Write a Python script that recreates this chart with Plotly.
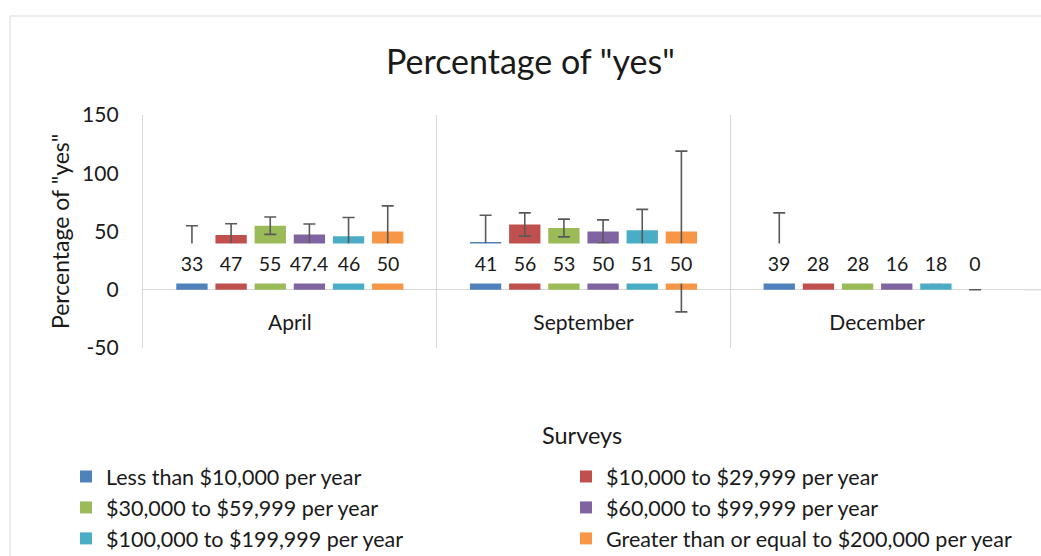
import plotly.graph_objects as go

categories = ["April", "September", "December"]
series_names = [
    "Less than $10,000 per year",
    "$10,000 to $29,999 per year",
    "$30,000 to $59,999 per year",
    "$60,000 to $99,999 per year",
    "$100,000 to $199,999 per year",
    "Greater than or equal to $200,000 per year",
]
colors = ["#4F81BD", "#C0504D", "#9BBB59", "#8064A2", "#4BACC6", "#F79646"]

# values per series across [April, September, December]
less_10k = [33, 41, 39]
k10_29 = [47, 56, 28]
k30_59 = [55, 53, 28]
k60_99 = [47.4, 50, 16]
k100_199 = [46, 51, 18]
k200_plus = [50, 50, 0]
values = [less_10k, k10_29, k30_59, k60_99, k100_199, k200_plus]

# error bar half-widths
err_less_10k = [22, 23, 27]
err_10_29 = [9.6, 10, 10]
err_30_59 = [7.5, 7.6, 10]
err_60_99 = [9, 10, 9]
err_100_199 = [16, 18, 12]
err_200_plus = [22, 69, 0]
errors = [err_less_10k, err_10_29, err_30_59, err_60_99, err_100_199, err_200_plus]

y_tickvals = [-50, 0, 50, 100, 150]
y_ticktext = ["-50", "0", "50", "100", "150"]

W, H = 1041, 556
L, R, T, B = 143, 17, 115, 208
PW, PH = W - L - R, H - T - B
FONT = "Lato"
TXT = "#1a1a1a"


def px_x(px):
    return (px - L) / PW


def px_y(py):
    return (H - B - py) / PH


fig = go.Figure()
for name, col, vals, errs in zip(series_names, colors, values, errors):
    fig.add_trace(go.Bar(
        x=categories, y=vals, name=name, marker=dict(color=col, line=dict(width=0)),
        error_y=dict(type="data", array=errs, color="#595959", thickness=1.6, width=6),
    ))

bargap = 0.2
n = len(series_names)
slot = (1 - bargap) / n
annotations = []
for k, vals in enumerate(values):
    for i, v in enumerate(vals):
        xpos = i - (1 - bargap) / 2 + (k + 0.5) * slot
        txt = str(v) if v != int(v) else str(int(v))
        annotations.append(dict(
            x=xpos, y=22.5, xref="x", yref="y", text=txt, showarrow=False,
            xanchor="center", yanchor="middle",
            bgcolor="white", width=38, height=37, valign="middle", align="center",
            font=dict(family=FONT, size=19.5, color=TXT),
        ))

annotations += [
    dict(x=px_x(530), y=px_y(61), xref="paper", yref="paper", text='Percentage of "yes"',
         xanchor="center", yanchor="middle",
         showarrow=False, font=dict(family=FONT, size=34, color=TXT)),
    dict(x=px_x(60), y=px_y(232), xref="paper", yref="paper", text='Percentage of "yes"',
         xanchor="center", yanchor="middle",
         textangle=-90, showarrow=False, font=dict(family=FONT, size=23, color=TXT)),
    dict(x=px_x(582), y=px_y(435), xref="paper", yref="paper", text="Surveys",
         xanchor="center", yanchor="middle",
         showarrow=False, font=dict(family=FONT, size=23.5, color=TXT)),
]

shapes = [
    dict(type="rect", xref="paper", yref="paper", x0=px_x(10), x1=px_x(1046),
         y0=px_y(565), y1=px_y(16), line=dict(color="#d9d9d9", width=1), layer="below"),
    dict(type="line", xref="paper", yref="y", x0=1, x1=px_x(1041), y0=0, y1=0,
         line=dict(color="#d9d9d9", width=1.3)),
]

fig.update_layout(
    width=W, height=H,
    margin=dict(l=L, r=R, t=T, b=B, pad=0, autoexpand=False),
    paper_bgcolor="white", plot_bgcolor="white",
    barmode="group", bargap=bargap, bargroupgap=0.2,
    annotations=annotations, shapes=shapes,
    font=dict(family=FONT, color=TXT),
    legend=dict(
        orientation="h", x=px_x(66), y=px_y(456), xanchor="left", yanchor="top",
        entrywidth=455, entrywidthmode="pixels", traceorder="normal",
        font=dict(family=FONT, size=21.5, color=TXT), bgcolor="rgba(0,0,0,0)",
    ),
    xaxis=dict(
        type="category", tickson="boundaries", showgrid=True, gridcolor="#d9d9d9", gridwidth=1.3,
        anchor="free", position=0.25, showline=False, ticks="", ticklabelstandoff=18,
        tickfont=dict(family=FONT, size=21, color=TXT), zeroline=False,
    ),
    yaxis=dict(
        range=[-50, 150], tickmode="array", tickvals=y_tickvals, ticktext=y_ticktext,
        showgrid=False, zeroline=True, zerolinecolor="#d9d9d9",
        zerolinewidth=1.3, showline=True, linecolor="#d9d9d9", linewidth=1.3,
        ticks="", ticklabelstandoff=19, tickfont=dict(family=FONT, size=21, color=TXT),
    ),
)

fig.write_html("out.html", config={"displayModeBar": False},
               post_script="document.body.style.margin='0';")
